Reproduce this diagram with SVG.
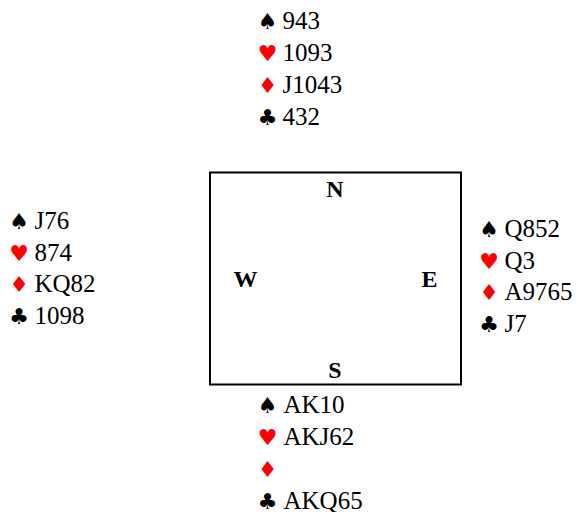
<svg xmlns="http://www.w3.org/2000/svg" width="576" height="512" viewBox="0 0 576 512">
<style>
.t{font-family:"Liberation Serif","Times New Roman",serif;font-size:25px;fill:#000}
.d{font-family:"Liberation Serif","Times New Roman",serif;font-size:24px;font-weight:bold;fill:#000;text-anchor:middle}
.s{font-family:"DejaVu Sans",sans-serif;font-size:22px;text-anchor:middle}
.b{fill:#000}
.r{fill:#ff0000}
</style>
<rect width="576" height="512" fill="#fff"/>
<g id="table">
<rect x="210" y="172.5" width="251" height="212" fill="none" stroke="#000" stroke-width="2"/>
<text class="d" x="335" y="197">N</text>
<text class="d" x="245.5" y="287">W</text>
<text class="d" x="429.5" y="287">E</text>
<text class="d" x="335" y="378">S</text>
</g>
<g id="north">
<text class="s b" x="267.5" y="29">♠</text><text class="t" x="282.5" y="29">943</text>
<text class="s r" x="267.5" y="61">♥</text><text class="t" x="282.5" y="61">1093</text>
<text class="s r" x="267.5" y="93">♦</text><text class="t" x="282.5" y="93">J1043</text>
<text class="s b" x="267.5" y="125">♣</text><text class="t" x="282.5" y="125">432</text>
</g>
<g id="west">
<text class="s b" x="19" y="229">♠</text><text class="t" x="34.5" y="229">J76</text>
<text class="s r" x="19" y="260.5">♥</text><text class="t" x="34.5" y="260.5">874</text>
<text class="s r" x="19" y="292">♦</text><text class="t" x="34.5" y="292">KQ82</text>
<text class="s b" x="19" y="323.5">♣</text><text class="t" x="34.5" y="323.5">1098</text>
</g>
<g id="east">
<text class="s b" x="489" y="237">♠</text><text class="t" x="504.5" y="237">Q852</text>
<text class="s r" x="489" y="268.5">♥</text><text class="t" x="504.5" y="268.5">Q3</text>
<text class="s r" x="489" y="300">♦</text><text class="t" x="504.5" y="300">A9765</text>
<text class="s b" x="489" y="331.5">♣</text><text class="t" x="504.5" y="331.5">J7</text>
</g>
<g id="south">
<text class="s b" x="267.5" y="413">♠</text><text class="t" x="283.5" y="413">AK10</text>
<text class="s r" x="267.5" y="445">♥</text><text class="t" x="283.5" y="445">AKJ62</text>
<text class="s r" x="267.5" y="477">♦</text>
<text class="s b" x="267.5" y="508.5">♣</text><text class="t" x="283.5" y="508.5">AKQ65</text>
</g>
</svg>
